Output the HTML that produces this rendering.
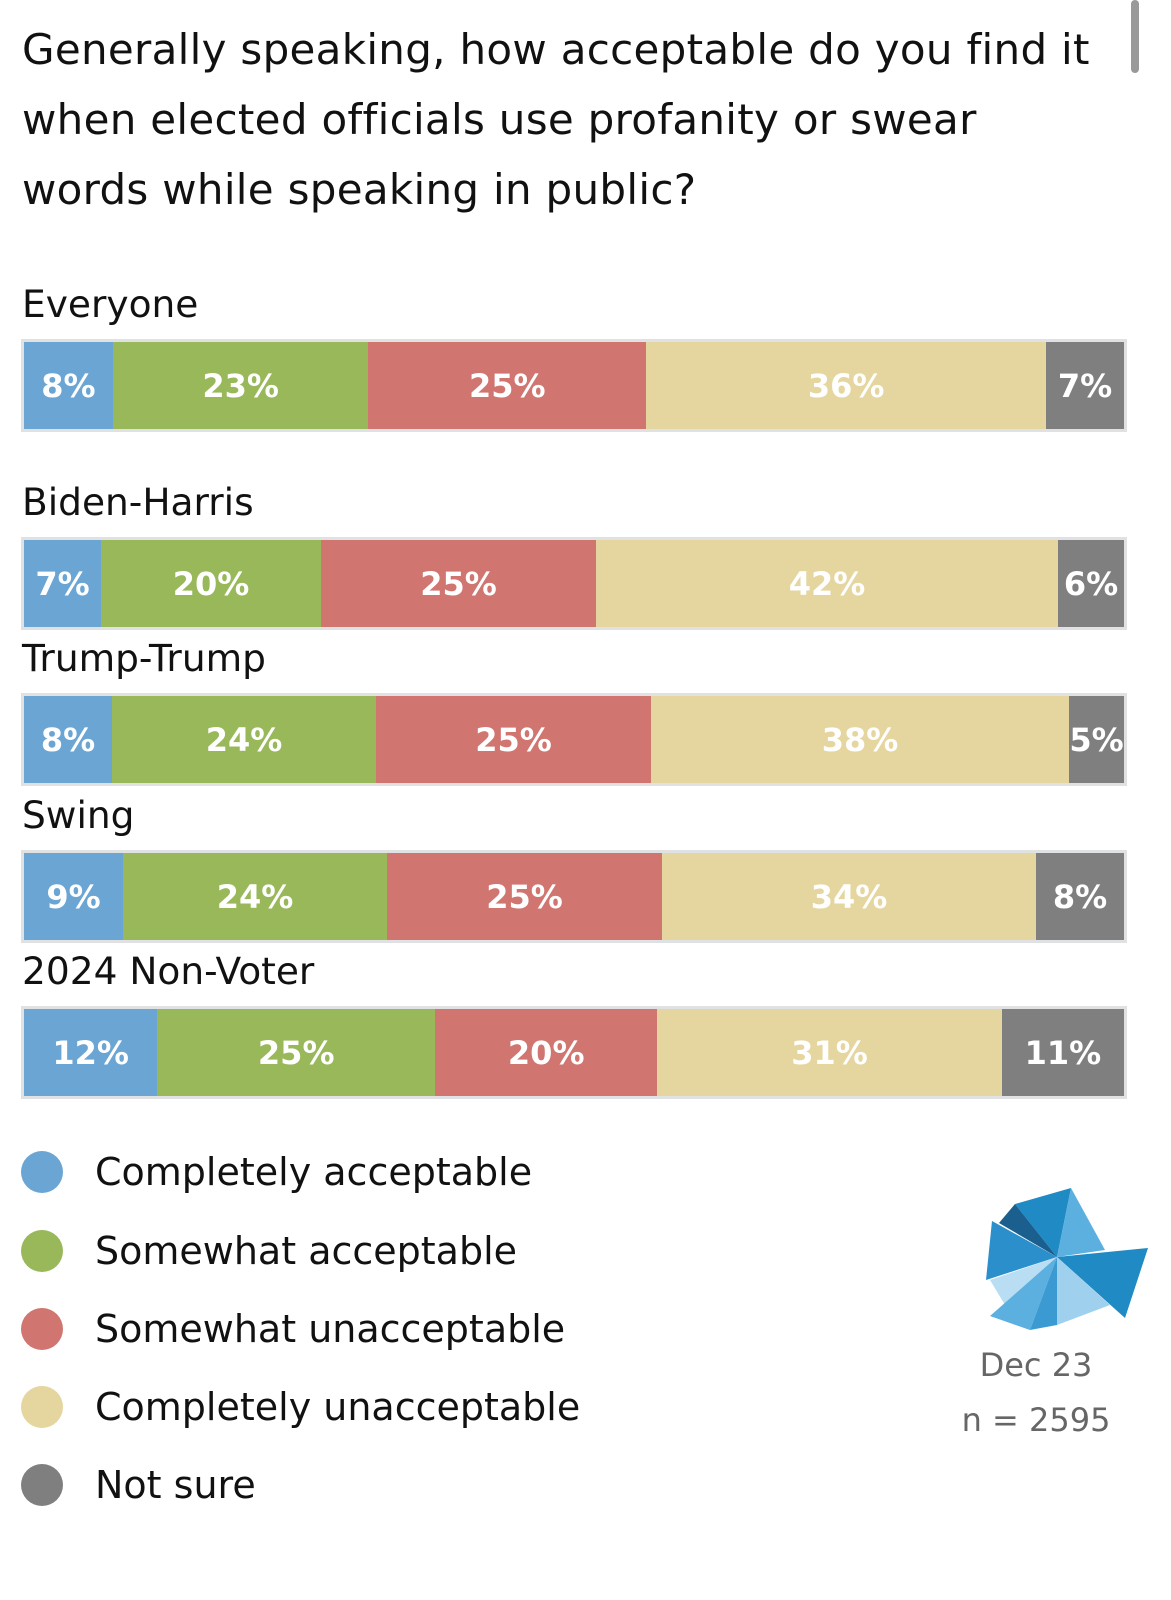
<!DOCTYPE html>
<html><head><meta charset="utf-8"><style>
body{margin:0;width:1171px;height:1600px;background:#fff;font-family:"DejaVu Sans","Liberation Sans",sans-serif;position:relative;overflow:hidden}
.t{position:absolute;left:22px;top:15px;font-size:42px;line-height:70px;color:#111;width:1082px;letter-spacing:0.3px}
.lbl{position:absolute;left:22px;font-size:37.5px;color:#111}
.bar{position:absolute;left:21px;width:1106px;height:93px;box-sizing:border-box;border:3px solid #dfe1e3;display:flex}
.seg{height:100%;display:flex;align-items:center;justify-content:center;color:#fff;font-weight:bold;font-size:32px;overflow:hidden}
.lg{position:absolute;left:21px;display:flex;align-items:center;font-size:38px;color:#111}
.dot{width:42px;height:42px;border-radius:50%;margin-right:32px}
.meta{position:absolute;left:936px;width:200px;text-align:center;font-size:32px;color:#666;line-height:55px}
.scroll{position:absolute;left:1131px;top:0;width:8px;height:73px;background:#999;border-radius:4px}
</style></head><body>
<div class="scroll"></div>
<div class="t">Generally speaking, how acceptable do you find it when elected officials use profanity or swear words while speaking in public?</div>
<div id="chart"></div>
<div class="lg" style="top:1150px"><div class="dot" style="background:#6aa5d4"></div>Completely acceptable</div>
<div class="lg" style="top:1229px"><div class="dot" style="background:#98b85a"></div>Somewhat acceptable</div>
<div class="lg" style="top:1307px"><div class="dot" style="background:#d07570"></div>Somewhat unacceptable</div>
<div class="lg" style="top:1385px"><div class="dot" style="background:#e5d59e"></div>Completely unacceptable</div>
<div class="lg" style="top:1463px"><div class="dot" style="background:#7f7f7f"></div>Not sure</div>
<svg style="position:absolute;left:950px;top:1150px" width="200" height="180">
<polygon points="107,107 65,54 121,38" fill="#1f8ac4"/>
<polygon points="107,107 49,73 65,54" fill="#1a5f8e"/>
<polygon points="107,107 42,71 36,130" fill="#2a8fcb"/>
<polygon points="107,107 121,38 155,100" fill="#5bb0e0"/>
<polygon points="107,107 198,98 175,168" fill="#1f8ac4"/>
<polygon points="107,107 40,130 55,155" fill="#b9ddf2"/>
<polygon points="107,107 40,166 80,180" fill="#5bb0e0"/>
<polygon points="107,107 80,180 107,175" fill="#3b9ad2"/>
<polygon points="107,107 107,175 160,155" fill="#9fd0ee"/>
</svg>
<div class="meta" style="top:1338px">Dec 23<br>n = 2595</div>
<script>
const groups=["Everyone","Biden-Harris","Trump-Trump","Swing","2024 Non-Voter"];
const completelyAcceptable=[8,7,8,9,12];
const somewhatAcceptable=[23,20,24,24,25];
const somewhatUnacceptable=[25,25,25,25,20];
const completelyUnacceptable=[36,42,38,34,31];
const notSure=[7,6,5,8,11];
const series=[completelyAcceptable,somewhatAcceptable,somewhatUnacceptable,completelyUnacceptable,notSure];
const colors=["#6aa5d4","#98b85a","#d07570","#e5d59e","#7f7f7f"];
const segNames=["completely-acceptable","somewhat-acceptable","somewhat-unacceptable","completely-unacceptable","not-sure"];
const barTops=[339,537,693,850,1006];
const chart=document.getElementById('chart');
groups.forEach((g,i)=>{
  const l=document.createElement('div');l.className='lbl';l.textContent=g;
  l.style.top=(barTops[i]-57)+'px';
  
  
  chart.appendChild(l);
  const b=document.createElement('div');b.className='bar';b.style.top=barTops[i]+'px';
  
  
  const tot=series.reduce((s,a)=>s+a[i],0);
  series.forEach((a,j)=>{
    const s=document.createElement('div');s.className='seg';
    s.style.width=(a[i]/tot*1100)+'px';s.style.background=colors[j];
    s.textContent=a[i]+'%';
    
    
    b.appendChild(s);
  });
  chart.appendChild(b);
});
</script>
</body></html>
